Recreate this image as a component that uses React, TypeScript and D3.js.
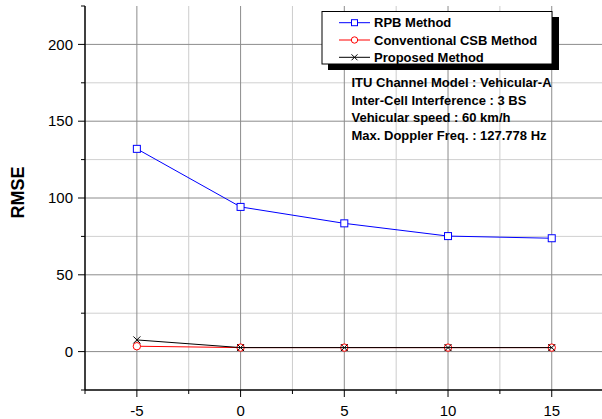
import React from "react";
import * as d3 from "d3";

const xValues = [-5, 0, 5, 10, 15];
const rpb = [132, 94.2, 83.5, 75.2, 73.8];
const csb = [3.5, 2.6, 2.6, 2.6, 2.6];
const proposed = [7.6, 2.6, 2.6, 2.6, 2.6];
const xMajor = [-5, 0, 5, 10, 15];
const xMinor = [-7.5, -2.5, 2.5, 7.5, 12.5, 17.5];
const yMajor = [0, 50, 100, 150, 200];
const yMinor = [-25, 25, 75, 125, 175, 225];
const legendLabels = ["RPB Method", "Conventional CSB Method", "Proposed Method"];
const notes = [
  "ITU Channel Model : Vehicular-A",
  "Inter-Cell Interference : 3 BS",
  "Vehicular speed : 60 km/h",
  "Max. Doppler Freq. : 127.778 Hz",
];

const W = 602;
const H = 419;
const FONT = "Arial, 'Liberation Sans', sans-serif";

export default function App() {
  const x = d3.scaleLinear().domain([-7.5, 17.5]).range([85, 603.6]);
  const y = d3.scaleLinear().domain([-25, 225]).range([390, 6]);
  const line = d3
    .line<number>()
    .x((_, i) => x(xValues[i]))
    .y((d) => y(d));

  const series = [
    { data: rpb, color: "#0000ff", marker: "square" },
    { data: csb, color: "#ff0000", marker: "circle" },
    { data: proposed, color: "#000000", marker: "cross" },
  ];

  const marker = (type: string, cx: number, cy: number, color: string, key: string) => {
    if (type === "square")
      return <rect key={key} x={cx - 3.5} y={cy - 3.5} width={7} height={7} fill="white" stroke={color} strokeWidth={1} />;
    if (type === "circle")
      return <circle key={key} cx={cx} cy={cy} r={3.7} fill="white" stroke={color} strokeWidth={1} />;
    return (
      <path key={key} d={`M${cx - 3.5},${cy - 3.5}L${cx + 3.5},${cy + 3.5}M${cx - 3.5},${cy + 3.5}L${cx + 3.5},${cy - 3.5}`} stroke={color} strokeWidth={1} fill="none" />
    );
  };

  const x0 = 85;
  const y0 = 390;

  return (
    <svg width={W} height={H} style={{ position: "absolute", left: 0, top: 0, background: "white" }} fontFamily={FONT}>
      <rect width={W} height={H} fill="white" />
      {/* grid */}
      {xMinor.filter((v) => v > -7.5).map((v) => (
        <line key={"gxm" + v} x1={x(v)} x2={x(v)} y1={y(225)} y2={y0} stroke="#cccccc" strokeWidth={1} />
      ))}
      {yMinor.filter((v) => v > -25 && v < 225).map((v) => (
        <line key={"gym" + v} x1={x0} x2={W} y1={y(v)} y2={y(v)} stroke="#d0d0d0" strokeWidth={1} />
      ))}
      {xMajor.map((v) => (
        <line key={"gx" + v} x1={x(v)} x2={x(v)} y1={y(225)} y2={y0} stroke="#8c8c8c" strokeWidth={1} />
      ))}
      {yMajor.map((v) => (
        <line key={"gy" + v} x1={x0} x2={W} y1={y(v)} y2={y(v)} stroke="#8c8c8c" strokeWidth={1} />
      ))}
      {/* axes */}
      <line x1={x0} x2={x0} y1={y(225)} y2={y0} stroke="black" strokeWidth={1.5} />
      <line x1={x0} x2={W} y1={y0} y2={y0} stroke="black" strokeWidth={1.5} />
      {yMajor.map((v) => (
        <line key={"ty" + v} x1={x0 - 7} x2={x0} y1={y(v)} y2={y(v)} stroke="black" strokeWidth={1} />
      ))}
      {yMinor.map((v) => (
        <line key={"tym" + v} x1={x0 - 4} x2={x0} y1={y(v)} y2={y(v)} stroke="black" strokeWidth={1} />
      ))}
      {xMajor.map((v) => (
        <line key={"tx" + v} x1={x(v)} x2={x(v)} y1={y0} y2={y0 + 7} stroke="black" strokeWidth={1} />
      ))}
      {xMinor.map((v) => (
        <line key={"txm" + v} x1={x(v)} x2={x(v)} y1={y0} y2={y0 + 4} stroke="black" strokeWidth={1} />
      ))}
      {yMajor.map((v) => (
        <text key={"ly" + v} x={x0 - 12} y={y(v)} dy="0.35em" textAnchor="end" fontSize={15}>
          {v}
        </text>
      ))}
      {xMajor.map((v) => (
        <text key={"lx" + v} x={x(v)} y={410.5} dy="0.35em" textAnchor="middle" fontSize={15}>
          {v}
        </text>
      ))}
      <text transform={`translate(17.5,192.5) rotate(-90)`} textAnchor="middle" dy="0.35em" fontSize={18} fontWeight="bold">
        RMSE
      </text>
      {/* series */}
      {series.map((s, si) => (
        <g key={"s" + si}>
          <path d={line(s.data) || ""} fill="none" stroke={s.color} strokeWidth={1} />
          {s.data.map((d, i) => marker(s.marker, x(xValues[i]), y(d), s.color, `m${si}-${i}`))}
        </g>
      ))}
      {/* legend */}
      <rect x={328} y={17} width={231} height={53} fill="black" />
      <rect x={322} y={11.5} width={230} height={52.5} fill="white" stroke="black" strokeWidth={1} />
      {series.map((s, i) => {
        const ly = 22.7 + i * 17.3;
        return (
          <g key={"lg" + i}>
            <line x1={339} x2={370} y1={ly} y2={ly} stroke={s.color} strokeWidth={1} />
            {s.marker === "square" ? (
              <rect x={351.5} y={ly - 3} width={6} height={6} fill="white" stroke={s.color} />
            ) : s.marker === "circle" ? (
              <circle cx={354.5} cy={ly} r={3.2} fill="white" stroke={s.color} />
            ) : (
              <path d={`M${351.5},${ly - 3}L${357.5},${ly + 3}M${351.5},${ly + 3}L${357.5},${ly - 3}`} stroke={s.color} fill="none" />
            )}
            <text x={374} y={ly} dy="0.35em" fontSize={13} fontWeight="bold">
              {legendLabels[i]}
            </text>
          </g>
        );
      })}
      {notes.map((n, i) => (
        <text key={"n" + i} x={351.5} y={82.5 + i * 17.5} dy="0.35em" fontSize={13} fontWeight="bold">
          {n}
        </text>
      ))}
    </svg>
  );
}
